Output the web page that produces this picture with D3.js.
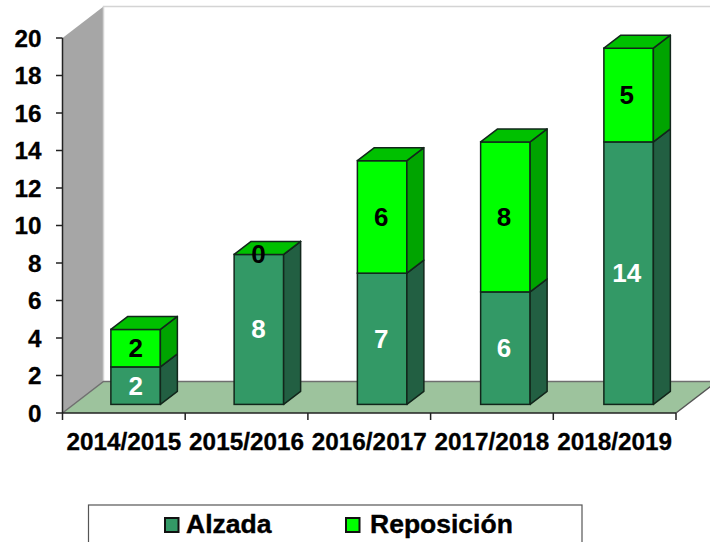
<!DOCTYPE html>
<html><head><meta charset="utf-8">
<script src="https://cdn.jsdelivr.net/npm/d3@7"></script>
<style>html,body{margin:0;padding:0;background:#fff}svg{display:block}text{font-family:"Liberation Sans",Arial,sans-serif;font-weight:bold}</style>
</head><body><svg id="c" width="710" height="542"></svg>
<script>
const categories=["2014/2015","2015/2016","2016/2017","2017/2018","2018/2019"];
const alzada=[2,8,7,6,14];
const reposicion=[2,0,6,8,5];
const yTicks=[0,2,4,6,8,10,12,14,16,18,20];
const seriesNames=["Alzada","Reposición"];
const colors={Alzada:{front:"#339966",side:"#225f42",top:"#2b8156"},"Reposición":{front:"#00ff00",side:"#00a400",top:"#00c000"}};
const stroke="#12261b";

const svg=d3.select("#c");
const y=d3.scaleLinear().domain([0,20]).range([413,38]);
const x=d3.scaleBand().domain(categories).range([62.5,676]);
const xBar=d3.scaleBand().domain(categories).range([74,74+5*123.25]);
const wallDx=41,wallDy=-31.5;
const barDx=17,barDy=-13,barW=49.5,barDrop=8.6,labelOffset=12;
const poly=p=>p.map(d=>d.join(",")).join(" ");

// walls and floor
svg.append("polygon").attr("fill","#a6a6a6")
 .attr("points",poly([[62.5,y(20)],[62.5+wallDx,y(20)+wallDy],[62.5+wallDx,y(0)+wallDy],[62.5,y(0)]]));
svg.append("polygon").attr("fill","#9dc39d")
 .attr("points",poly([[62.5,y(0)],[62.5+wallDx,y(0)+wallDy],[676+wallDx,y(0)+wallDy],[676,y(0)]]));
svg.append("path").attr("fill","none").attr("stroke","#d4d4d4").attr("stroke-width",1.5)
 .attr("d",`M${62.5+wallDx},${y(0)+wallDy}V${y(20)+wallDy}H710`);
svg.append("path").attr("fill","none").attr("stroke","#6f6f6f").attr("stroke-width",1.5)
 .attr("d",`M${62.5},${y(0)}L${62.5+wallDx},${y(0)+wallDy}H710`);
svg.append("path").attr("fill","none").attr("stroke","#555").attr("stroke-width",1.5)
 .attr("d",`M676,${y(0)}L${676+wallDx},${y(0)+wallDy}`);

// axes
const ax=svg.append("g").attr("stroke","#222").attr("stroke-width",1.5);
ax.append("line").attr("x1",62.5).attr("x2",62.5).attr("y1",y(20)).attr("y2",y(0));
ax.append("line").attr("x1",62.5).attr("x2",676).attr("y1",y(0)).attr("y2",y(0));
ax.selectAll(".yt").data(yTicks).join("line").attr("x1",56).attr("x2",62.5).attr("y1",d=>y(d)).attr("y2",d=>y(d));
ax.selectAll(".xt").data(d3.range(categories.length+1)).join("line")
 .attr("x1",i=>62.5+i*x.bandwidth()).attr("x2",i=>62.5+i*x.bandwidth()).attr("y1",y(0)).attr("y2",420);
svg.selectAll(".yl").data(yTicks).join("text").attr("x",41.5).attr("y",d=>y(d)+8.5)
 .attr("text-anchor","end").attr("font-size",24.3).attr("fill","#000").attr("stroke","#000").attr("stroke-width",0.3).text(d=>d);
svg.selectAll(".xl").data(categories).join("text").attr("x",d=>x(d)+x.bandwidth()/2).attr("y",450)
 .attr("text-anchor","middle").attr("font-size",24.3).attr("fill","#000").attr("stroke","#000").attr("stroke-width",0.3).text(d=>d);

// bars
categories.forEach((c,i)=>{
  const g=svg.append("g");
  const bx=xBar(c)+xBar.bandwidth()/2-barW/2;
  const segs=[["Alzada",0,alzada[i],"#fff"],["Reposición",alzada[i],alzada[i]+reposicion[i],"#000"]];
  segs.forEach(([n,a,b])=>{
    const t=y(b)-barDrop,bt=y(a)-barDrop,col=colors[n];
    if(b>a) g.append("rect").attr("x",bx).attr("y",t).attr("width",barW).attr("height",bt-t)
      .attr("fill",col.front).attr("stroke",stroke).attr("stroke-width",1.5);
    g.append("polygon").attr("fill",col.side).attr("stroke",stroke).attr("stroke-width",1.5).attr("stroke-linejoin","round")
      .attr("points",poly([[bx+barW,t],[bx+barW+barDx,t+barDy],[bx+barW+barDx,bt+barDy],[bx+barW,bt]]));
    if(n==="Reposición"||b===a) g.append("polygon").attr("fill",col.top).attr("stroke",stroke).attr("stroke-width",1.5).attr("stroke-linejoin","round")
      .attr("points",poly([[bx,t],[bx+barDx,t+barDy],[bx+barW+barDx,t+barDy],[bx+barW,t]]));
  });
  segs.forEach(([n,a,b,tc])=>{
    g.append("text").attr("x",x(c)+x.bandwidth()/2+labelOffset).attr("y",(y(a)+y(b))/2-barDrop+9).attr("text-anchor","middle")
      .attr("font-size",26).attr("fill",tc).text(b-a);
  });
});

// legend
svg.append("rect").attr("x",88.5).attr("y",505).attr("width",493.5).attr("height",60).attr("fill","#fff").attr("stroke","#555").attr("stroke-width",1.2);
const lx=[165,346],tx=[186,370];
seriesNames.forEach((n,i)=>{
  svg.append("rect").attr("x",lx[i]).attr("y",518).attr("width",13.5).attr("height",14).attr("fill",colors[n].front).attr("stroke","#111").attr("stroke-width",2);
  svg.append("text").attr("x",tx[i]).attr("y",533).attr("font-size",26.5).attr("fill","#000").attr("stroke","#000").attr("stroke-width",0.4).text(n);
});
</script></body></html>
